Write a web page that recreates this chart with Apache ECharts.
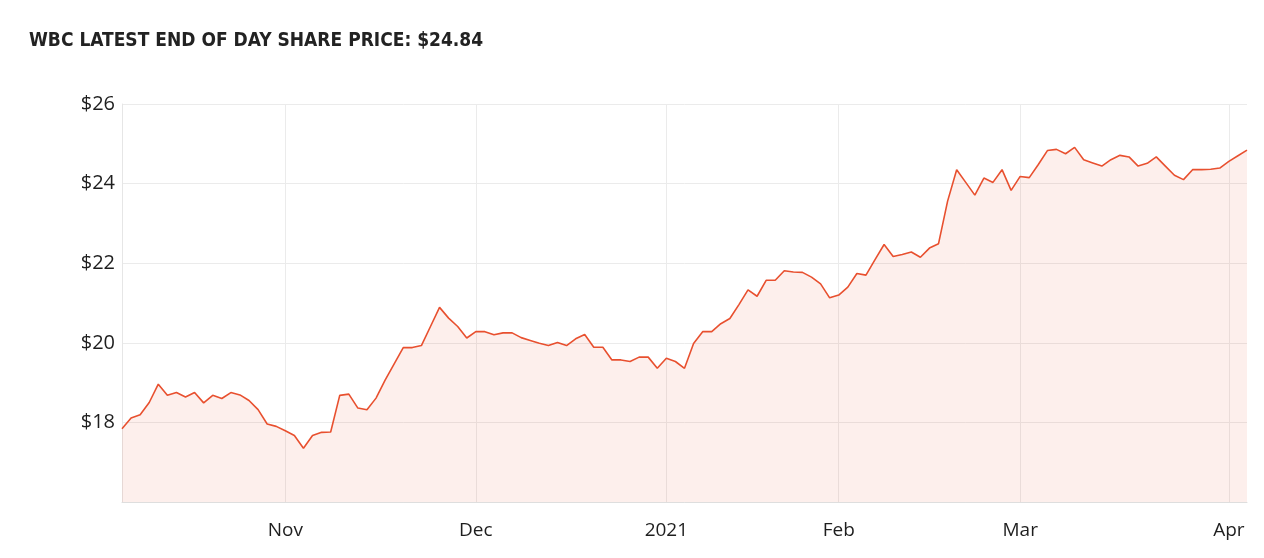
<!DOCTYPE html>
<html>
<head>
<meta charset="utf-8">
<script src="https://cdn.jsdelivr.net/npm/echarts@6/dist/echarts.min.js"></script>
<style>
html,body{margin:0;padding:0;background:#fff;}
#chart{width:1264px;height:558px;}
</style>
</head>
<body>
<div id="chart"></div>
<script>
const titleText = 'WBC LATEST END OF DAY SHARE PRICE: $24.84';

const dates = [
'2020-10-07','2020-10-08','2020-10-09','2020-10-12','2020-10-13','2020-10-14','2020-10-15','2020-10-16','2020-10-19','2020-10-20',
'2020-10-21','2020-10-22','2020-10-23','2020-10-26','2020-10-27','2020-10-28','2020-10-29','2020-10-30',
'2020-11-02','2020-11-03','2020-11-04','2020-11-05','2020-11-06','2020-11-09','2020-11-10','2020-11-11','2020-11-12','2020-11-13',
'2020-11-16','2020-11-17','2020-11-18','2020-11-19','2020-11-20','2020-11-23','2020-11-24','2020-11-25','2020-11-26','2020-11-27','2020-11-30',
'2020-12-01','2020-12-02','2020-12-03','2020-12-04','2020-12-07','2020-12-08','2020-12-09','2020-12-10','2020-12-11','2020-12-14',
'2020-12-15','2020-12-16','2020-12-17','2020-12-18','2020-12-21','2020-12-22','2020-12-23','2020-12-24','2020-12-29','2020-12-30','2020-12-31',
'2021-01-04','2021-01-05','2021-01-06','2021-01-07','2021-01-08','2021-01-11','2021-01-12','2021-01-13','2021-01-14','2021-01-15',
'2021-01-18','2021-01-19','2021-01-20','2021-01-21','2021-01-22','2021-01-25','2021-01-27','2021-01-28','2021-01-29',
'2021-02-01','2021-02-02','2021-02-03','2021-02-04','2021-02-05','2021-02-08','2021-02-09','2021-02-10','2021-02-11','2021-02-12',
'2021-02-15','2021-02-16','2021-02-17','2021-02-18','2021-02-19','2021-02-22','2021-02-23','2021-02-24','2021-02-25','2021-02-26',
'2021-03-01','2021-03-02','2021-03-03','2021-03-04','2021-03-05','2021-03-08','2021-03-09','2021-03-10','2021-03-11','2021-03-12',
'2021-03-15','2021-03-16','2021-03-17','2021-03-18','2021-03-19','2021-03-22','2021-03-23','2021-03-24','2021-03-25','2021-03-26',
'2021-03-29','2021-03-30','2021-03-31',
'2021-04-01','2021-04-06','2021-04-07'
];

const prices = [
17.84,18.11,18.19,18.50,18.96,18.68,18.75,18.64,18.75,18.49,
18.68,18.60,18.75,18.69,18.55,18.32,17.96,17.90,
17.79,17.67,17.35,17.67,17.75,17.76,18.68,18.71,18.36,18.32,
18.61,19.06,19.47,19.88,19.88,19.93,20.41,20.89,20.62,20.41,20.12,
20.28,20.28,20.20,20.25,20.25,20.13,20.06,19.99,19.93,20.01,
19.93,20.10,20.21,19.89,19.89,19.57,19.57,19.53,19.64,19.64,19.36,
19.61,19.53,19.36,19.98,20.28,20.28,20.48,20.61,20.96,21.33,
21.17,21.57,21.57,21.81,21.78,21.77,21.65,21.48,21.13,
21.20,21.40,21.74,21.70,22.09,22.47,22.17,22.22,22.28,22.15,
22.38,22.49,23.56,24.35,24.03,23.71,24.14,24.03,24.35,23.83,
24.18,24.15,24.48,24.83,24.86,24.75,24.91,24.60,24.52,24.44,
24.60,24.71,24.67,24.44,24.51,24.67,24.44,24.21,24.10,24.35,
24.35,24.36,24.39,
24.56,24.70,24.84
];

const tickDates = ['2020-11-02','2020-12-01','2021-01-04','2021-02-01','2021-03-01','2021-04-01'];
const tickLabels = ['Nov','Dec','2021','Feb','Mar','Apr'];

const yTicks = [16,18,20,22,24,26];

const isTick = (idx, val) => tickDates.indexOf(val) >= 0;

const chart = echarts.init(document.getElementById('chart'), null, {renderer:'canvas'});
chart.setOption({
  animation: false,
  backgroundColor: '#ffffff',
  title: {
    text: titleText,
    left: 24,
    top: 27,
    textStyle: {
      fontFamily: '"DejaVu Sans Condensed", "DejaVu Sans"',
      fontWeight: 'bold',
      fontSize: 19,
      color: '#222222'
    }
  },
  grid: { left: 122, right: 17, top: 104, bottom: 56 },
  xAxis: {
    type: 'category',
    data: dates,
    boundaryGap: false,
    axisLine: { show: true, lineStyle: { color: '#dedede', width: 1 } },
    axisTick: { show: false },
    axisLabel: {
      interval: isTick,
      formatter: (val) => {
        const k = tickDates.indexOf(val);
        return k >= 0 ? tickLabels[k] : '';
      },
      margin: 19,
      fontFamily: 'Open Sans',
      fontSize: 19,
      color: '#1e1e1e'
    },
    splitLine: { show: true, interval: isTick, lineStyle: { color: '#ebebeb', width: 1 } }
  },
  yAxis: {
    type: 'value',
    min: yTicks[0],
    max: yTicks[yTicks.length - 1],
    interval: 2,
    axisLine: { show: true, lineStyle: { color: '#e6e6e6', width: 1 } },
    axisTick: { show: false },
    axisLabel: {
      showMinLabel: false,
      formatter: (v) => v === yTicks[0] ? '' : '$' + v,
      margin: 7,
      fontFamily: 'Open Sans',
      fontSize: 20,
      color: '#1e1e1e'
    },
    splitLine: { show: true, lineStyle: { color: '#ebebeb', width: 1 } }
  },
  series: [{
    type: 'line',
    data: prices,
    showSymbol: false,
    symbol: 'none',
    lineStyle: { color: '#e8502f', width: 1.6 },
    itemStyle: { color: '#e8502f' },
    areaStyle: { color: 'rgba(232,80,47,0.13)' }
  }]
});
</script>
</body>
</html>
